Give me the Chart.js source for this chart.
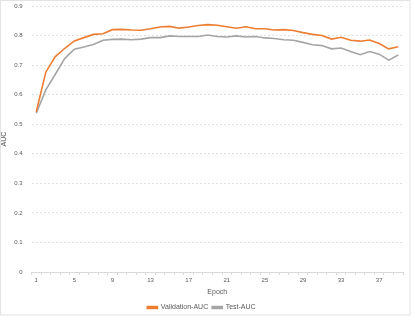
<!DOCTYPE html>
<html>
<head>
<meta charset="utf-8">
<script src="https://cdn.jsdelivr.net/npm/chart.js@4.4.1/dist/chart.umd.min.js"></script>
<style>
    html, body { margin: 0; padding: 0; background: #fff; }
    #wrap { width: 415px; height: 321px; position: relative; }
</style>
</head>
<body>
<div id="wrap"><canvas id="aucChart"></canvas></div>
<script>
// epochs 1..39
const epochs = [];
for (let i = 1; i <= 39; i++) epochs.push(i);

const validationAuc = [
    0.542, 0.676, 0.729, 0.757, 0.782, 0.793, 0.804, 0.806, 0.820, 0.821,
    0.819, 0.818, 0.823, 0.829, 0.831, 0.825, 0.829, 0.834, 0.837, 0.835,
    0.830, 0.825, 0.830, 0.823, 0.823, 0.819, 0.820, 0.817, 0.810, 0.804,
    0.800, 0.788, 0.794, 0.784, 0.781, 0.785, 0.773, 0.755, 0.762
];

const testAuc = [
    0.537, 0.616, 0.669, 0.723, 0.754, 0.761, 0.770, 0.784, 0.787, 0.788,
    0.786, 0.788, 0.793, 0.793, 0.799, 0.797, 0.797, 0.797, 0.802, 0.797,
    0.795, 0.799, 0.795, 0.797, 0.792, 0.790, 0.786, 0.784, 0.777, 0.769,
    0.766, 0.755, 0.758, 0.746, 0.735, 0.746, 0.737, 0.717, 0.734
];

const textColor = '#595959';

// light frame round the chart area, like the spreadsheet export
const framePlugin = {
    id: 'frame',
    beforeDraw(chart) {
        const ctx = chart.ctx;
        ctx.save();
        ctx.fillStyle = '#fff';
        ctx.fillRect(0, 0, chart.width, chart.height);
        ctx.strokeStyle = '#e3e3e3';
        ctx.lineWidth = 1;
        ctx.strokeRect(0.5, 0.5, 409.5, 314.5);
        ctx.restore();
    }
};

const ctx = document.getElementById('aucChart').getContext('2d');

new Chart(ctx, {
    type: 'line',
    data: {
        labels: epochs,
        datasets: [{
            label: 'Validation-AUC',
            data: validationAuc,
            borderColor: '#ED7D31',
            backgroundColor: '#ED7D31',
            borderWidth: 1.6,
            pointRadius: 0,
            tension: 0
        }, {
            label: 'Test-AUC',
            data: testAuc,
            borderColor: '#A5A5A5',
            backgroundColor: '#A5A5A5',
            borderWidth: 1.6,
            pointRadius: 0,
            tension: 0
        }]
    },
    options: {
        responsive: true,
        maintainAspectRatio: false,
        animation: false,
        layout: {
            padding: { left: 0, right: 12, top: 0, bottom: 0 }
        },
        scales: {
            x: {
                offset: true,
                border: { display: true, color: '#d9d9d9' },
                grid: {
                    offset: true,
                    drawOnChartArea: false,
                    drawTicks: true,
                    tickLength: 3,
                    color: '#d9d9d9'
                },
                ticks: {
                    autoSkip: false,
                    maxRotation: 0,
                    padding: 2,
                    color: textColor,
                    font: { family: 'Liberation Sans', size: 6 },
                    callback: function (val, index) {
                        return index % 4 === 0 ? this.getLabelForValue(val) : '';
                    }
                },
                title: {
                    display: true,
                    text: 'Epoch',
                    color: textColor,
                    padding: { top: 2, bottom: 4 },
                    font: { family: 'Liberation Sans', size: 7 }
                },
                afterFit: function (scale) { scale.height = 28; }
            },
            y: {
                min: 0,
                max: 0.9,
                border: { display: false, dash: [2, 2] },
                grid: {
                    color: '#d9d9d9',
                    lineWidth: 0.8,
                    drawTicks: false
                },
                ticks: {
                    stepSize: 0.1,
                    padding: 9,
                    color: textColor,
                    font: { family: 'Liberation Sans', size: 6 }
                },
                title: {
                    display: true,
                    text: 'AUC',
                    color: textColor,
                    padding: 0,
                    font: { family: 'Liberation Sans', size: 7 }
                },
                afterFit: function (scale) {
                    scale.width = 31.5;
                    // tick padding would otherwise push the plot down
                    scale.paddingTop = 6;
                    scale.paddingBottom = 0;
                }
            }
        },
        plugins: {
            legend: {
                position: 'bottom',
                labels: {
                    boxWidth: 10,
                    boxHeight: 2,
                    padding: 4,
                    color: textColor,
                    font: { family: 'Liberation Sans', size: 7 }
                }
            },
            tooltip: { enabled: false }
        }
    },
    plugins: [framePlugin]
});
</script>
</body>
</html>
